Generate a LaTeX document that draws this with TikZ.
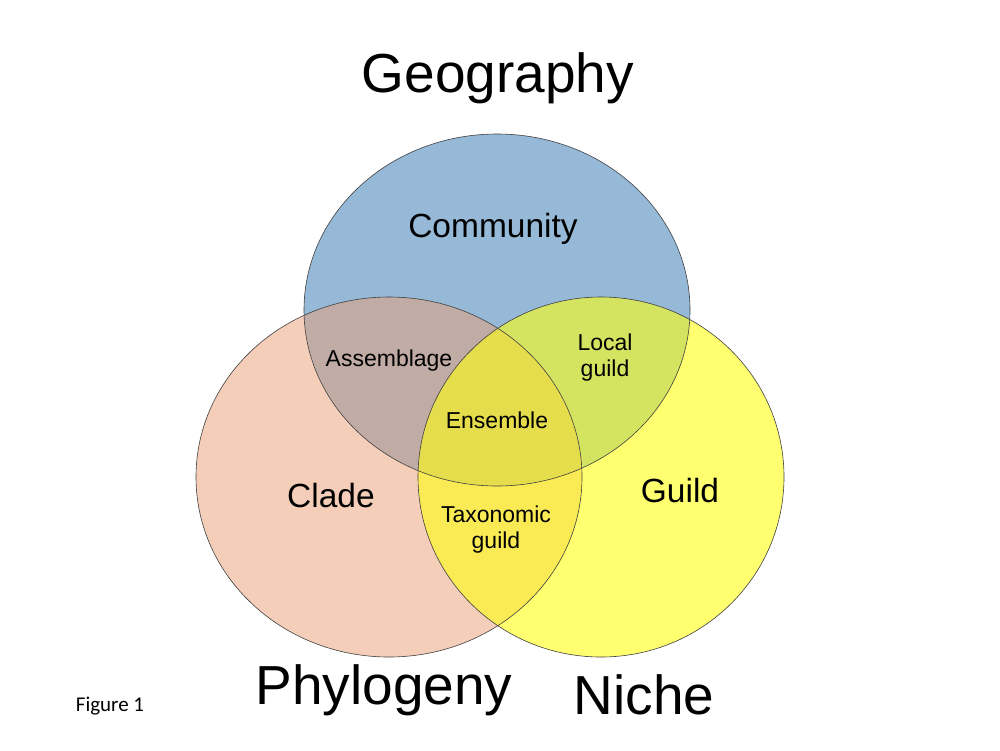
\documentclass[tikz,border=0pt]{standalone}
\usepackage{fontspec}
\setmainfont{Liberation Sans}
\newfontfamily\calib{Carlito}
\definecolor{cblue}{RGB}{149,185,215}
\definecolor{csal}{RGB}{235,159,117}
\definecolor{cyel}{RGB}{255,255,17}
\begin{document}
\begin{tikzpicture}[x=1pt,y=-1pt,
  circ/.style={draw=black!75,line width=0.6pt},
  lbl/.style={font=\fontsize{23}{26}\selectfont,align=center},
  mid/.style={font=\fontsize{33.5}{36}\selectfont},
  big/.style={font=\fontsize{55}{60}\selectfont}]
\useasboundingbox (0,0) rectangle (1000,750);
\fill[white] (0,0) rectangle (1000,750);
\fill[cblue] (497,310) ellipse [x radius=193, y radius=176];
\fill[csal,fill opacity=0.5] (389,477) ellipse [x radius=193, y radius=180];
\fill[cyel,fill opacity=0.6] (601,477) ellipse [x radius=183, y radius=180];
\draw[circ] (497,310) ellipse [x radius=193, y radius=176];
\draw[circ] (389,477) ellipse [x radius=193, y radius=180];
\draw[circ] (601,477) ellipse [x radius=183, y radius=180];
\node[big] (geo) at (498,78) {Geography};
\node[big] (phy) at (384,690) {Phylogeny};
\node[big] (nic) at (644,695) {Niche};
\node[mid] (com) at (493,229) {Community};
\node[mid] (cla) at (331,496) {Clade};
\node[mid] (gui) at (680,491) {Guild};
\node[lbl] (ass) at (389,361) {Assemblage};
\node[lbl] (loc) at (605,358) {Local\\guild};
\node[lbl] (ens) at (497,420) {Ensemble};
\node[lbl] (tax) at (496,530) {Taxonomic\\guild};
\node[font=\calib\fontsize{21}{24}\selectfont] (fig) at (110,706) {Figure 1};
\end{tikzpicture}
\end{document}
